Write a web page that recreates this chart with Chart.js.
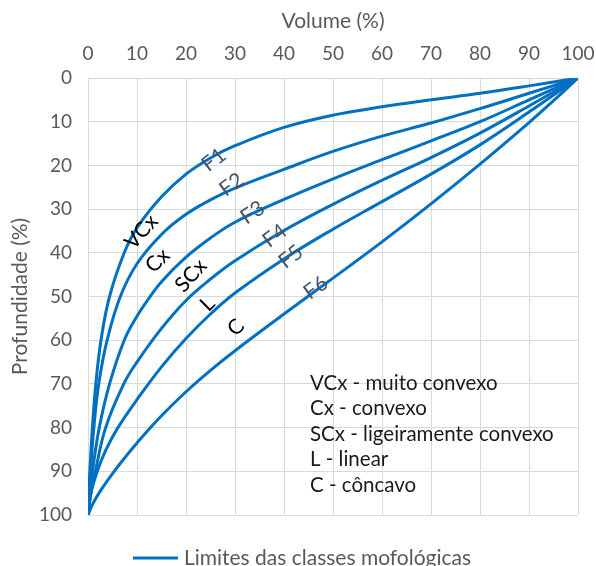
<!DOCTYPE html>
<html>
<head>
<meta charset="utf-8">
<script src="https://cdn.jsdelivr.net/npm/chart.js@4.4.0/dist/chart.umd.min.js"></script>
<style>
html,body{margin:0;padding:0;background:#ffffff;}
#wrap{width:596px;height:566px;position:relative;}
</style>
</head>
<body>
<div id="wrap"><canvas id="chart" width="596" height="566"></canvas></div>
<script>
// ---- Data ----
const curveNames = ['F1', 'F2', 'F3', 'F4', 'F5', 'F6'];

const volumeF1 = [0, 0.15, 0.38, 0.9, 1.6, 2.65, 4.4, 7.4, 10, 15, 20, 25, 30, 40, 50, 60, 70, 80, 90, 100];
const depthF1  = [100, 95, 90, 80, 70, 60, 50, 40, 34.3, 27.2, 22.0, 18.3, 15.5, 11.3, 8.5, 6.6, 5.0, 3.5, 1.8, 0];

const volumeF2 = [0, 0.2, 0.5, 1.2, 2.2, 3.9, 6.6, 10, 15, 20, 25, 30, 40, 50, 60, 70, 80, 90, 100];
const depthF2  = [100, 95, 90, 80, 70, 60, 50, 42.5, 35.8, 31.2, 27.9, 25.2, 20.9, 16.8, 13.3, 10.3, 7.0, 3.5, 0];

const volumeF3 = [0, 0.3, 0.9, 2.3, 4.4, 7.4, 10, 12.5, 15, 20, 25, 30, 40, 50, 60, 70, 80, 90, 100];
const depthF3  = [100, 95, 90, 80, 70, 60, 54.5, 50.3, 46.6, 41.0, 36.6, 33.0, 27.8, 23.1, 18.7, 14.4, 10.0, 5.0, 0];

const volumeF4 = [0, 0.6, 1.5, 3.6, 7.3, 10, 15, 20, 25, 30, 40, 50, 60, 70, 80, 90, 100];
const depthF4  = [100, 95, 90, 80, 70, 65, 57.3, 50.9, 46.0, 41.8, 34.9, 28.9, 23.4, 18.2, 12.6, 6.4, 0];

const volumeF5 = [0, 0.6, 1.9, 3.7, 6.1, 10, 15, 20, 25, 30, 40, 50, 60, 70, 80, 90, 100];
const depthF5  = [100, 95, 90, 85, 80, 73.6, 66.1, 59.6, 54.0, 49.2, 41.4, 34.6, 28.3, 22.0, 15.3, 7.8, 0];

const volumeF6 = [0, 1, 2.5, 5, 7.5, 10, 15, 20, 25, 30, 40, 50, 60, 70, 80, 90, 95, 100];
const depthF6  = [100, 97.4, 94.55, 90.55, 86.9, 83.5, 77.3, 71.8, 66.9, 62.4, 54.0, 45.8, 37.5, 28.8, 19.7, 10.2, 5.2, 0];

const volumeTicks = [0, 10, 20, 30, 40, 50, 60, 70, 80, 90, 100];
const depthTicks  = [0, 10, 20, 30, 40, 50, 60, 70, 80, 90, 100];

const classCodes = ['VCx', 'Cx', 'SCx', 'L', 'C'];
const classDescriptions = ['VCx - muito convexo', 'Cx - convexo', 'SCx - ligeiramente convexo', 'L - linear', 'C - côncavo'];
const legendText = 'Limites das classes mofológicas';
const xTitle = 'Volume (%)';
const yTitle = 'Profundidade (%)';

// ---- Annotation placement (in data units) ----
const curveLabelPos = {
  x: [25.7, 29.3, 33.6, 38.1, 41.4, 46.5],
  y: [18.7, 24.4, 30.8, 36.1, 40.9, 48.0],
  angle: [-38, -36, -34, -37, -38, -36]
};
const classLabelPos = {
  x: [10.9, 14.2, 21.0, 24.4, 30.2],
  y: [35.2, 41.8, 45.2, 51.7, 57.1],
  angle: [-48, -45, -48, -45, -45]
};
const descAnchor = { x: 45.3, y: 69.8, lineStep: 5.85 };

// ---- Build datasets ----
const volumes = [volumeF1, volumeF2, volumeF3, volumeF4, volumeF5, volumeF6];
const depths  = [depthF1, depthF2, depthF3, depthF4, depthF5, depthF6];
const LINE_COLOR = '#0070C0';
const datasets = curveNames.map((name, i) => ({
  label: name,
  data: volumes[i].map((v, k) => ({ x: v, y: depths[i][k] })),
  showLine: true,
  borderColor: LINE_COLOR,
  backgroundColor: LINE_COLOR,
  borderWidth: 3,
  pointRadius: 0,
  fill: false,
  tension: 0.4
}));

const FONT = 'Lato, "Open Sans", sans-serif';

const annotations = {
  id: 'annotations',
  afterDatasetsDraw(chart) {
    const ctx = chart.ctx;
    const xs = chart.scales.x, ys = chart.scales.y;
    ctx.save();
    ctx.textAlign = 'center';
    ctx.textBaseline = 'middle';
    // curve labels F1..F6
    ctx.fillStyle = '#44546A';
    ctx.font = '21px ' + FONT;
    curveNames.forEach((n, i) => {
      const px = xs.getPixelForValue(curveLabelPos.x[i]);
      const py = ys.getPixelForValue(curveLabelPos.y[i]);
      ctx.save();
      ctx.translate(px, py);
      ctx.rotate(curveLabelPos.angle[i] * Math.PI / 180);
      ctx.fillText(n, 0, 0);
      ctx.restore();
    });
    // class labels
    ctx.fillStyle = '#000000';
    classCodes.forEach((n, i) => {
      const px = xs.getPixelForValue(classLabelPos.x[i]);
      const py = ys.getPixelForValue(classLabelPos.y[i]);
      ctx.save();
      ctx.translate(px, py);
      ctx.rotate(classLabelPos.angle[i] * Math.PI / 180);
      ctx.fillText(n, 0, 0);
      ctx.restore();
    });
    // description box
    ctx.textAlign = 'left';
    ctx.font = '20.5px ' + FONT;
    ctx.fillStyle = '#1a1a1a';
    classDescriptions.forEach((t, i) => {
      const px = xs.getPixelForValue(descAnchor.x);
      const py = ys.getPixelForValue(descAnchor.y + i * descAnchor.lineStep);
      ctx.fillText(t, px, py);
    });
    ctx.restore();
  },
  afterDraw(chart) {
    // legend at bottom
    const ctx = chart.ctx;
    ctx.save();
    ctx.font = '21px ' + FONT;
    const tw = ctx.measureText(legendText).width;
    const lineLen = 45, gap = 6;
    const total = lineLen + gap + tw;
    const x0 = (chart.width - total) / 2 + 4;
    const y = chart.height - 8;
    ctx.strokeStyle = LINE_COLOR;
    ctx.lineWidth = 3;
    ctx.beginPath();
    ctx.moveTo(x0, y);
    ctx.lineTo(x0 + lineLen, y);
    ctx.stroke();
    ctx.fillStyle = '#595959';
    ctx.textAlign = 'left';
    ctx.textBaseline = 'middle';
    ctx.fillText(legendText, x0 + lineLen + gap, y);
    ctx.restore();
  }
};

new Chart(document.getElementById('chart'), {
  type: 'scatter',
  data: { datasets },
  options: {
    responsive: false,
    animation: false,
    devicePixelRatio: 1,
    layout: { padding: { left: 0, right: 18, top: 0, bottom: 51 } },
    plugins: {
      legend: { display: false },
      tooltip: { enabled: false }
    },
    scales: {
      x: {
        type: 'linear',
        position: 'top',
        min: 0, max: 100,
        afterFit(scale) { scale.height = 78; scale.paddingLeft = 0; scale.paddingRight = 0; },
        afterBuildTicks(scale) { scale.ticks = volumeTicks.map(v => ({ value: v })); },
        grid: { color: '#d9d9d9', lineWidth: 1, drawTicks: false },
        border: { color: '#d9d9d9' },
        ticks: { color: '#595959', font: { family: FONT, size: 19 }, padding: 13, maxRotation: 0 },
        title: { display: true, text: xTitle, color: '#595959', font: { family: FONT, size: 21 }, padding: { top: 9, bottom: 0 } }
      },
      y: {
        type: 'linear',
        position: 'left',
        reverse: true,
        min: 0, max: 100,
        afterFit(scale) { scale.width = 88; scale.paddingTop = 0; scale.paddingBottom = 0; },
        afterBuildTicks(scale) { scale.ticks = depthTicks.map(v => ({ value: v })); },
        grid: { color: '#d9d9d9', lineWidth: 1, drawTicks: false },
        border: { color: '#d9d9d9' },
        ticks: { color: '#595959', font: { family: FONT, size: 19 }, padding: 16 },
        title: { display: true, text: yTitle, color: '#595959', font: { family: FONT, size: 21 }, padding: { top: 8, bottom: 0 } }
      }
    }
  },
  plugins: [annotations]
});
</script>
</body>
</html>
